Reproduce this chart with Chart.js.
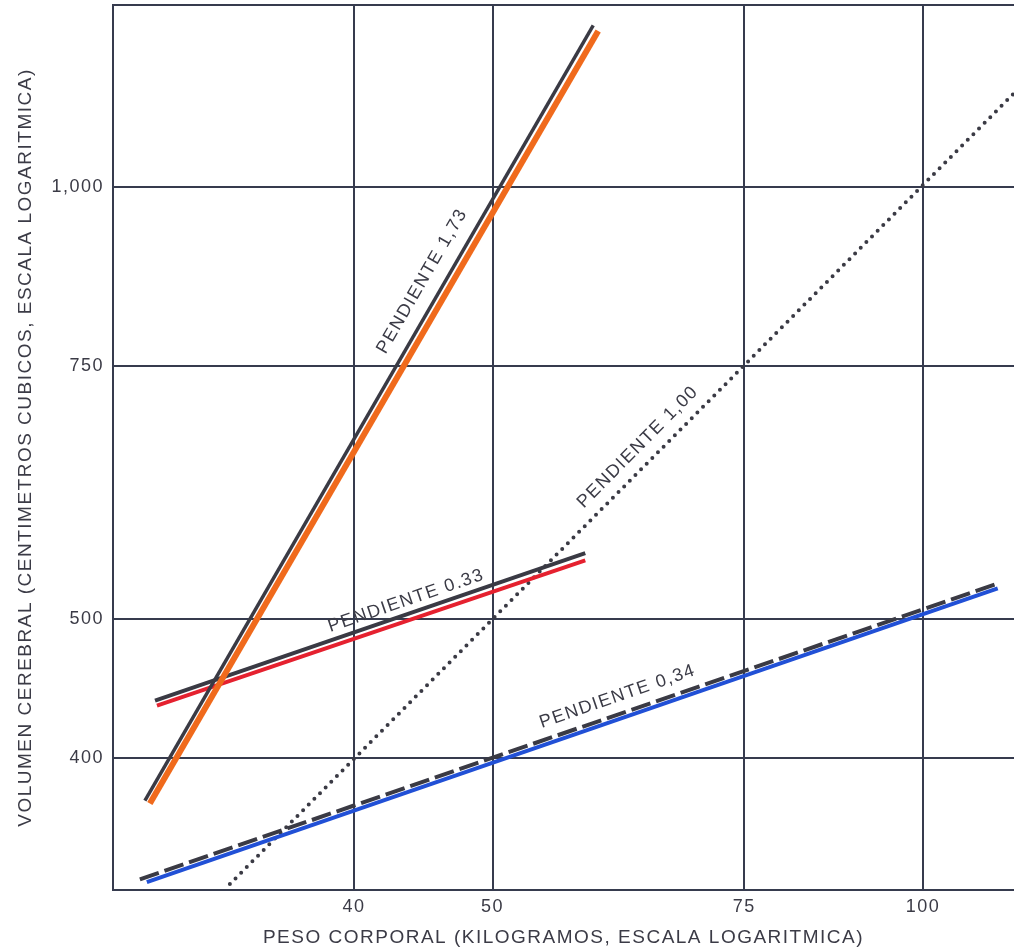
<!DOCTYPE html>
<html>
<head>
<meta charset="utf-8">
<title>Volumen cerebral vs peso corporal</title>
<script src="https://cdn.jsdelivr.net/npm/chart.js@4.4.1/dist/chart.umd.min.js"></script>
<style>
  html, body { margin: 0; padding: 0; background: #fff; }
  #wrap { width: 1014px; height: 948px; position: relative; }
</style>
</head>
<body>
<div id="wrap"><canvas id="brainChart"></canvas></div>
<script>
/* log-log chart: brain volume against body weight, four slopes */

// axis extents and ticks
const X_MIN = 27.13, X_MAX = 115.8;
const Y_MIN = 323.5, Y_MAX = 1340;
const X_TICKS = [40, 50, 75, 100];
const X_TICK_LABELS = ['40', '50', '75', '100'];
const Y_TICKS = [400, 500, 750, 1000];
const Y_TICK_LABELS = ['400', '500', '750', '1,000'];

const X_TITLE = 'PESO CORPORAL (KILOGRAMOS, ESCALA LOGARITMICA)';
const Y_TITLE = 'VOLUMEN CEREBRAL (CENTIMETROS CUBICOS, ESCALA LOGARITMICA)';

// line end points (kg, cm3)
const PESO_173 = [28.56, 58.8];    const VOL_173 = [373.5, 1297];
const PESO_173_C = [28.79, 59.27]; const VOL_173_C = [371.7, 1285];
const PESO_033 = [29.03, 58.05];   const VOL_033 = [438.5, 555.6];
const PESO_033_C = [29.12, 58.05]; const VOL_033_C = [435.0, 549.2];
const PESO_034 = [28.33, 112.4];   const VOL_034 = [329.1, 528.5];
const PESO_034_C = [28.65, 112.8]; const VOL_034_C = [327.6, 525.1];
const PESO_100 = [32.75, 115.8];   const VOL_100 = [326.6, 1163];

// slope labels: text, which dataset they follow, weight where they sit
const LABEL_TEXTS = ['PENDIENTE 1,73', 'PENDIENTE 0.33', 'PENDIENTE 1,00', 'PENDIENTE 0,34'];
const LABEL_LINE = [0, 2, 6, 4];
const LABEL_AT = [45.9, 43.8, 64.5, 61.7];
const LABEL_GAP = [20, 13, 18, 17]; // px away from the line

const COLORS = {
  ink:    '#3a3a44',
  grid:   '#363b4e',
  text:   '#3b3b46',
  orange: '#f06a1c',
  red:    '#e5212f',
  blue:   '#2150d6',
};
const FONT_FAMILY = "'Liberation Sans', Arial, sans-serif";
const TICK_FONT = { family: FONT_FAMILY, size: 18 };
const TITLE_FONT = { family: FONT_FAMILY, size: 19, lineHeight: 1 };

const pts = (xs, ys) => xs.map((x, i) => ({ x, y: ys[i] }));

const LINE_BASE = { pointRadius: 0, pointHoverRadius: 0, fill: false, tension: 0, borderCapStyle: 'butt' };

// scale sizes are fixed so the plot area sits where the original one does
function fixBox(w, h) {
  return s => {
    if (w !== null) s.width = w;
    if (h !== null) s.height = h;
    s.paddingLeft = 0; s.paddingRight = 0; s.paddingTop = 0; s.paddingBottom = 0;
  };
}

const paperPlugin = {
  id: 'paper',
  beforeDraw(chart) {
    const ctx = chart.ctx;
    ctx.save();
    ctx.fillStyle = '#ffffff';
    ctx.fillRect(0, 0, chart.width, chart.height);
    ctx.restore();
    ctx.letterSpacing = '1.5px';
  },
};

const slopeLabels = {
  id: 'slopeLabels',
  afterDatasetsDraw(chart) {
    const { ctx, scales: { x, y } } = chart;
    ctx.save();
    ctx.font = '18px ' + FONT_FAMILY;
    ctx.fillStyle = COLORS.text;
    ctx.textAlign = 'center';
    ctx.textBaseline = 'middle';
    LABEL_TEXTS.forEach((text, i) => {
      const [a, b] = chart.data.datasets[LABEL_LINE[i]].data;
      const t = Math.log(LABEL_AT[i] / a.x) / Math.log(b.x / a.x);
      const yv = Math.exp(Math.log(a.y) + t * Math.log(b.y / a.y));
      const ang = Math.atan2(
        y.getPixelForValue(b.y) - y.getPixelForValue(a.y),
        x.getPixelForValue(b.x) - x.getPixelForValue(a.x)
      );
      const px = x.getPixelForValue(LABEL_AT[i]) + Math.sin(ang) * LABEL_GAP[i];
      const py = y.getPixelForValue(yv) - Math.cos(ang) * LABEL_GAP[i];
      ctx.save();
      ctx.translate(px, py);
      ctx.rotate(ang);
      ctx.fillText(text, 0, 0);
      ctx.restore();
    });
    ctx.restore();
  },
};

new Chart(document.getElementById('brainChart'), {
  type: 'line',
  data: {
    datasets: [
      { ...LINE_BASE, label: 'Pendiente 1,73', data: pts(PESO_173, VOL_173), borderColor: COLORS.ink, borderWidth: 3.5 },
      { ...LINE_BASE, label: 'Pendiente 1,73 (color)', data: pts(PESO_173_C, VOL_173_C), borderColor: COLORS.orange, borderWidth: 6 },
      { ...LINE_BASE, label: 'Pendiente 0,33', data: pts(PESO_033, VOL_033), borderColor: COLORS.ink, borderWidth: 4 },
      { ...LINE_BASE, label: 'Pendiente 0,33 (color)', data: pts(PESO_033_C, VOL_033_C), borderColor: COLORS.red, borderWidth: 4 },
      { ...LINE_BASE, label: 'Pendiente 0,34', data: pts(PESO_034, VOL_034), borderColor: COLORS.ink, borderWidth: 4, borderDash: [20, 6] },
      { ...LINE_BASE, label: 'Pendiente 0,34 (color)', data: pts(PESO_034_C, VOL_034_C), borderColor: COLORS.blue, borderWidth: 4 },
      { ...LINE_BASE, label: 'Pendiente 1,00', data: pts(PESO_100, VOL_100), borderColor: COLORS.ink, borderWidth: 4, borderDash: [0, 8], borderCapStyle: 'round' },
    ],
  },
  options: {
    responsive: true,
    maintainAspectRatio: false,
    animation: false,
    layout: { padding: 0 },
    plugins: { legend: { display: false }, tooltip: { enabled: false } },
    scales: {
      x: {
        type: 'logarithmic', position: 'bottom', min: X_MIN, max: X_MAX,
        afterBuildTicks: s => { s.ticks = X_TICKS.map(v => ({ value: v })); },
        afterFit: fixBox(null, 58),
        grid: { color: COLORS.grid, lineWidth: 2, drawTicks: false },
        border: { color: COLORS.grid, width: 2 },
        ticks: { padding: 6, color: COLORS.text, font: TICK_FONT, maxRotation: 0, callback: (v, i) => X_TICK_LABELS[i] },
        title: { display: true, text: X_TITLE, color: COLORS.text, font: TITLE_FONT, padding: { top: 0, bottom: 1 } },
      },
      xTop: {
        type: 'logarithmic', axis: 'x', position: 'top', min: X_MIN, max: X_MAX,
        afterFit: fixBox(null, 5),
        grid: { display: false },
        ticks: { display: false },
        border: { color: COLORS.grid, width: 2 },
      },
      y: {
        type: 'logarithmic', position: 'left', min: Y_MIN, max: Y_MAX,
        afterBuildTicks: s => { s.ticks = Y_TICKS.map(v => ({ value: v })); },
        afterFit: fixBox(113, null),
        grid: { color: COLORS.grid, lineWidth: 2, drawTicks: false },
        border: { color: COLORS.grid, width: 2 },
        ticks: { padding: 9, color: COLORS.text, font: TICK_FONT, callback: (v, i) => Y_TICK_LABELS[i] },
        title: { display: true, text: Y_TITLE, color: COLORS.text, font: TITLE_FONT, padding: { top: 16, bottom: 0 } },
      },
    },
  },
  plugins: [paperPlugin, slopeLabels],
});
</script>
</body>
</html>
